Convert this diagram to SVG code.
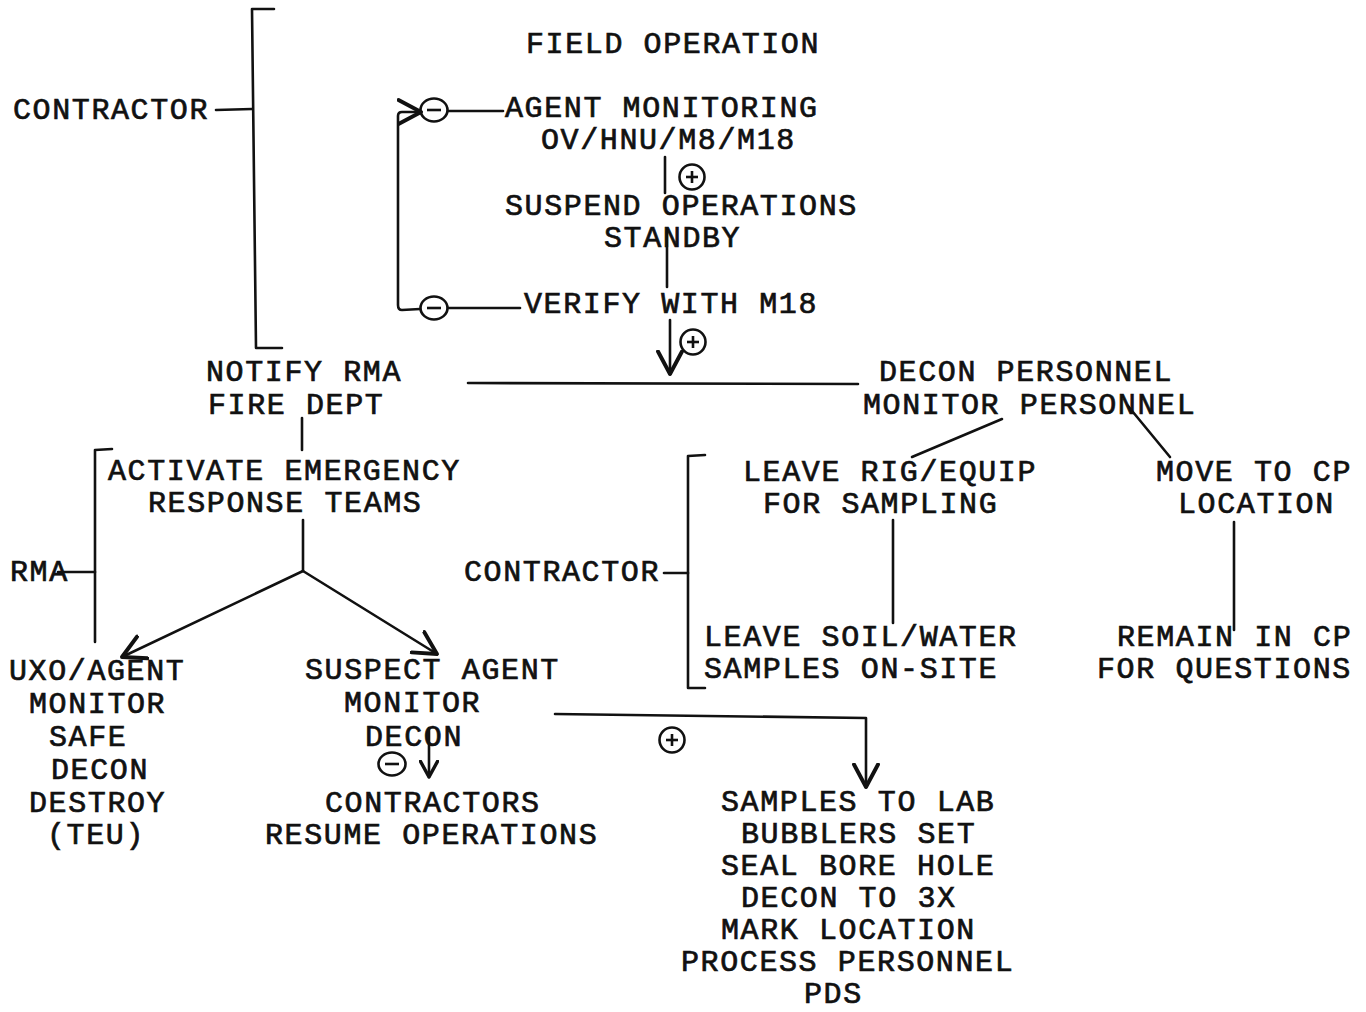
<svg xmlns="http://www.w3.org/2000/svg" width="1366" height="1012" viewBox="0 0 1366 1012">
<style>
text{font-family:"Liberation Mono","DejaVu Sans Mono",monospace;font-size:30px;letter-spacing:1.6px;fill:#111;stroke:#111;stroke-width:0.7px}
.ln{fill:none;stroke:#111;stroke-width:2.6;stroke-linecap:round;stroke-linejoin:round}
.sym{fill:none;stroke:#111;stroke-width:2.6}
</style>
<defs>
<marker id="arr" markerUnits="userSpaceOnUse" markerWidth="30" markerHeight="30" refX="16" refY="10" orient="auto" viewBox="0 0 20 20">
<path d="M1,2 L16,10 L1,18" fill="none" stroke="#111" stroke-width="2.6" stroke-linecap="round" stroke-linejoin="round"/>
</marker>
<marker id="arrs" markerUnits="userSpaceOnUse" markerWidth="20" markerHeight="20" refX="12" refY="7" orient="auto" viewBox="0 0 14 14">
<path d="M1,1 L12,7 L1,13" fill="none" stroke="#111" stroke-width="2.4" stroke-linecap="round" stroke-linejoin="round"/>
</marker>
<g id="minus"><ellipse cx="0" cy="0" rx="13.5" ry="11.5" class="sym"/><line x1="-7" y1="0" x2="7" y2="0" class="sym" stroke-width="3.2"/></g>
<g id="plus"><circle cx="0" cy="0" r="12.5" class="sym"/><line x1="-6" y1="0" x2="6" y2="0" class="sym"/><line x1="0" y1="-6" x2="0" y2="6" class="sym"/></g>
</defs>
<rect width="1366" height="1012" fill="#fff"/>

<g id="connectors">
<!-- top contractor bracket -->
<path class="ln" d="M274,9 L252,9 L256,348 L282,348"/>
<path class="ln" d="M216,110 L252,109"/>
<!-- loop -->
<path class="ln" d="M448,111 L503,111"/>
<path class="ln" d="M448,308 L520,308"/>
<path class="ln" d="M420,309 L402,310 Q398,310 398,305 L398,116 Q398,112 402,112 L421,112" marker-end="url(#arr)"/>
<!-- main chain -->
<path class="ln" d="M665,157 L665,193"/>
<path class="ln" d="M667,231 L667,287"/>
<path class="ln" d="M670,320 L670,374" marker-end="url(#arr)"/>
<path class="ln" d="M468,383 L858,384"/>
<!-- notify -->
<path class="ln" d="M302,418 L302,450"/>
<!-- RMA bracket -->
<path class="ln" d="M112,449 L95,450 L95,642"/>
<path class="ln" d="M58,572 L95,572"/>
<path class="ln" d="M303,520 L303,571"/>
<path class="ln" d="M303,571 L122,657" marker-end="url(#arr)"/>
<path class="ln" d="M303,571 L437,654" marker-end="url(#arr)"/>
<!-- suspect agent -->
<path class="ln" d="M429,728 L429,777" marker-end="url(#arrs)"/>
<path class="ln" d="M555,714 L866,718 L866,787" marker-end="url(#arr)"/>
<!-- decon personnel -->
<path class="ln" d="M1002,419 L912,457"/>
<path class="ln" d="M1128,406 L1170,457"/>
<path class="ln" d="M893,520 L893,623"/>
<path class="ln" d="M1234,522 L1234,630"/>
<!-- contractor bracket mid -->
<path class="ln" d="M705,455 L688,456 L688,688 L705,688"/>
<path class="ln" d="M664,573 L688,573"/>
</g>

<g id="symbols">
<use href="#minus" x="434" y="110"/>
<use href="#minus" x="434" y="308"/>
<use href="#plus" x="692" y="177"/>
<use href="#plus" x="693" y="342"/>
<use href="#minus" x="392" y="764"/>
<use href="#plus" x="672" y="740"/>
</g>

<g id="title"><text x="526" y="53">FIELD OPERATION</text></g>
<g id="contractor-top"><text x="13" y="119">CONTRACTOR</text></g>
<g id="agent-monitoring"><text x="505" y="117">AGENT MONITORING</text><text x="541" y="149">OV/HNU/M8/M18</text></g>
<g id="suspend"><text x="505" y="215">SUSPEND OPERATIONS</text><text x="604" y="247">STANDBY</text></g>
<g id="verify"><text x="524" y="313">VERIFY WITH M18</text></g>
<g id="notify"><text x="206" y="381">NOTIFY RMA</text><text x="208" y="414">FIRE DEPT</text></g>
<g id="decon-personnel"><text x="879" y="381">DECON PERSONNEL</text><text x="863" y="414">MONITOR PERSONNEL</text></g>
<g id="activate"><text x="108" y="480">ACTIVATE EMERGENCY</text><text x="148" y="512">RESPONSE TEAMS</text></g>
<g id="rma"><text x="10" y="581">RMA</text></g>
<g id="contractor-mid"><text x="464" y="581">CONTRACTOR</text></g>
<g id="leave-rig"><text x="743" y="481">LEAVE RIG/EQUIP</text><text x="763" y="513">FOR SAMPLING</text></g>
<g id="move-cp"><text x="1156" y="481">MOVE TO CP</text><text x="1178" y="513">LOCATION</text></g>
<g id="leave-soil"><text x="704" y="646">LEAVE SOIL/WATER</text><text x="704" y="678">SAMPLES ON-SITE</text></g>
<g id="remain-cp"><text x="1117" y="646">REMAIN IN CP</text><text x="1097" y="678">FOR QUESTIONS</text></g>
<g id="uxo"><text x="9" y="680">UXO/AGENT</text><text x="29" y="713">MONITOR</text><text x="49" y="746">SAFE</text><text x="51" y="779">DECON</text><text x="29" y="812">DESTROY</text><text x="47" y="844">(TEU)</text></g>
<g id="suspect"><text x="305" y="679">SUSPECT AGENT</text><text x="344" y="712">MONITOR</text><text x="365" y="746">DECON</text></g>
<g id="resume"><text x="325" y="812">CONTRACTORS</text><text x="265" y="844">RESUME OPERATIONS</text></g>
<g id="samples"><text x="721" y="811">SAMPLES TO LAB</text><text x="741" y="843">BUBBLERS SET</text><text x="721" y="875">SEAL BORE HOLE</text><text x="741" y="907">DECON TO 3X</text><text x="721" y="939">MARK LOCATION</text><text x="681" y="971">PROCESS PERSONNEL</text><text x="804" y="1003">PDS</text></g>
</svg>
